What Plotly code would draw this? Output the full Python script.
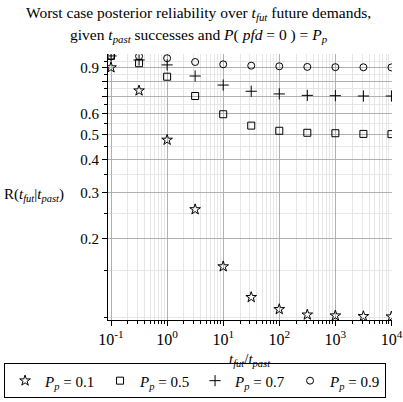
import plotly.graph_objects as go

# Ratio of future demands to past successes
ratio = [0.1, 0.316, 1, 3.16, 10, 31.6, 100, 316, 1000, 3162, 10000]

# Worst case posterior reliability for each prior P(pfd = 0)
r_pp01 = [0.901, 0.735, 0.476, 0.258, 0.156, 0.119, 0.107, 0.102, 0.1012, 0.1006, 0.1003]
r_pp05 = [0.998, 0.936, 0.831, 0.701, 0.597, 0.540, 0.516, 0.507, 0.505, 0.502, 0.501]
r_pp07 = [0.998, 0.963, 0.922, 0.836, 0.772, 0.731, 0.714, 0.705, 0.703, 0.701, 0.701]
r_pp09 = [0.998, 0.995, 0.978, 0.946, 0.927, 0.916, 0.911, 0.906, 0.904, 0.903, 0.902]

series_names = ["<i>P<sub>p</sub></i> = 0.1", "<i>P<sub>p</sub></i> = 0.5",
                "<i>P<sub>p</sub></i> = 0.7", "<i>P<sub>p</sub></i> = 0.9"]

# Axis tick values and labels
x_major = [0.1, 1, 10, 100, 1000, 10000]
x_major_text = ["10<sup>-1</sup>", "10<sup>0</sup>", "10<sup>1</sup>",
                "10<sup>2</sup>", "10<sup>3</sup>", "10<sup>4</sup>"]
x_minor = [m * 10 ** e for e in range(-1, 4) for m in range(2, 10)]
y_major = [0.2, 0.3, 0.4, 0.5, 0.6, 0.7, 0.8, 0.9]
y_major_text = ["0.2", "0.3", "0.4", "0.5", "0.6", "", "", "0.9"]
y_minor = [0.1, 0.15, 0.25, 0.35, 0.45, 0.55, 0.65, 0.75, 0.85, 0.95]

SERIF = "Liberation Serif, Times New Roman, serif"

fig = go.Figure()
styles = [
    dict(symbol="star-open", size=8),
    dict(symbol="square-open", size=7),
    dict(symbol="cross-thin-open", size=8),
    dict(symbol="circle-open", size=7),
]
for vals, name, st in zip([r_pp01, r_pp05, r_pp07, r_pp09], series_names, styles):
    fig.add_trace(go.Scatter(
        x=ratio, y=vals, mode="markers", name=name,
        marker=dict(symbol=st["symbol"], size=st["size"], color="black",
                    line=dict(color="black", width=1)),
    ))

fig.update_layout(
    width=403, height=402,
    margin=dict(l=108, r=11, t=54, b=82, autoexpand=False),
    paper_bgcolor="white", plot_bgcolor="white",
    font=dict(family=SERIF, size=14, color="black"),
    showlegend=True,
    legend=dict(
        orientation="h", xref="paper", yref="paper",
        x=-0.366, xanchor="left", y=-0.229, yanchor="middle",
        bordercolor="black", borderwidth=1, bgcolor="white",
        font=dict(family=SERIF, size=15), itemwidth=30,
        entrywidth=50, entrywidthmode="pixels", tracegroupgap=0,
    ),
)

fig.update_xaxes(
    type="log", range=[-1.054, 4.01],
    tickmode="array", tickvals=x_major, ticktext=x_major_text,
    showline=True, linecolor="black", linewidth=1, mirror=False,
    ticks="outside", ticklen=5, tickcolor="black",
    showgrid=True, gridcolor="#b0b0b0", gridwidth=1, zeroline=False,
    tickfont=dict(family=SERIF, size=16),
    minor=dict(tickvals=x_minor, ticks="outside", ticklen=3, tickcolor="black",
               showgrid=True, gridcolor="#e6e6e6", gridwidth=1),
)
fig.update_yaxes(
    type="log", range=[-1.0115, 0.0065],
    tickmode="array", tickvals=y_major, ticktext=y_major_text,
    showline=True, linecolor="black", linewidth=1,
    ticks="outside", ticklen=5, tickcolor="black",
    showgrid=True, gridcolor="#b0b0b0", gridwidth=1, zeroline=False,
    tickfont=dict(family=SERIF, size=15),
    minor=dict(tickvals=y_minor, ticks="outside", ticklen=3, tickcolor="black",
               showgrid=True, gridcolor="#e6e6e6", gridwidth=1),
)

# Two-line heading above the plot area
fig.add_annotation(
    text="Worst case posterior reliability over <i>t<sub>fut</sub></i> future demands,",
    xref="paper", yref="paper", x=0.32, y=1.154, xanchor="center", yanchor="middle",
    showarrow=False, font=dict(family=SERIF, size=15.5, color="black"),
)
fig.add_annotation(
    text="given <i>t<sub>past</sub></i> successes and <i>P</i>( <i>pfd</i> = 0 ) = <i>P<sub>p</sub></i>",
    xref="paper", yref="paper", x=0.32, y=1.071, xanchor="center", yanchor="middle",
    showarrow=False, font=dict(family=SERIF, size=15.5, color="black"),
)

# Axis titles
fig.add_annotation(
    text="<i>t<sub>fut</sub></i>/<i>t<sub>past</sub></i>",
    xref="paper", yref="paper", x=0.5, y=-0.15,
    xanchor="center", yanchor="middle", showarrow=False,
    font=dict(family=SERIF, size=15, color="black"),
)
fig.add_annotation(
    text="R(<i>t<sub>fut</sub></i>|<i>t<sub>past</sub></i>)",
    xref="paper", yref="paper", x=-0.372, y=0.47,
    xanchor="left", yanchor="middle", showarrow=False,
    font=dict(family=SERIF, size=15, color="black"),
)

fig.write_html("out.html")
